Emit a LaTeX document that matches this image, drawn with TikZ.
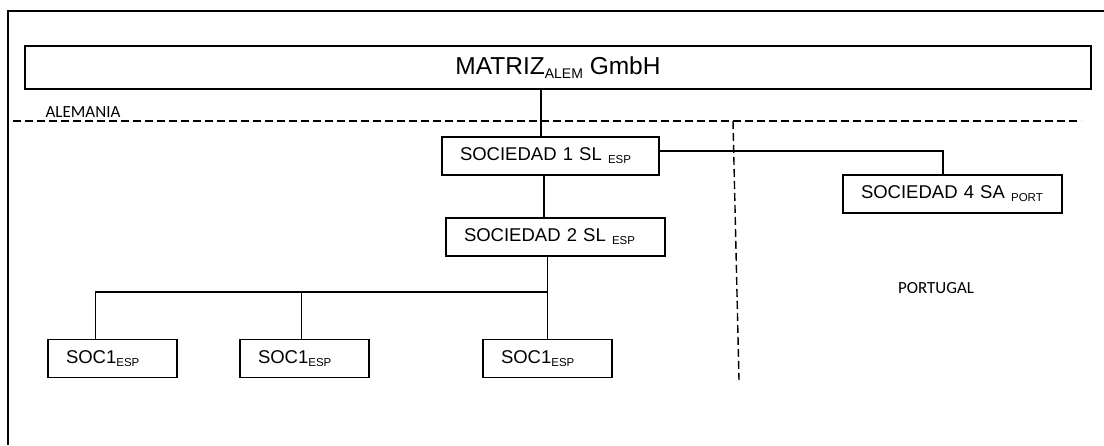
\documentclass[tikz,border=0pt]{standalone}
\usepackage{fontspec}
\setmainfont{Liberation Sans}
\newfontfamily\calibri{Carlito}
\usetikzlibrary{calc}

% small lowered tag after a company name
\newcommand{\lowsub}[2][11.5]{\raisebox{-0.3ex}{\fontsize{#1}{#1}\selectfont #2}}

\begin{document}
\begin{tikzpicture}[x=1pt,y=-1pt,
  soc/.style={draw, line width=1.4pt, rectangle, inner xsep=18pt, align=left,
    minimum height=38pt, font=\fontsize{18.5}{21}\selectfont},
  link/.style={line width=1.4pt},
  country/.style={font=\calibri\fontsize{17}{20}\selectfont},
  border/.style={dash pattern=on 8pt off 4pt, line width=1.4pt}]
\useasboundingbox (0,0) rectangle (1104,445);
\draw[line width=1.6pt] (8,445) -- (8,11) -- (1104,11);

% parent company
\node[draw, line width=1.4pt, minimum width=1066pt, minimum height=43pt,
  font=\fontsize{24.5}{28}\selectfont] (matriz) at (558,67.5) {MATRIZ\lowsub[14]{ALEM} GmbH};

% countries
\node[country] (alemania) at (83,112) {ALEMANIA};
\node[country] (portugal) at (936,288) {PORTUGAL};
\draw[border] (13,121) -- (1081,121);
\draw[border] (733,121) -- (739,380);

% subsidiaries
\node[soc, text width=181pt] (s1) at (550.5,156) {SOCIEDAD 1 SL \lowsub{ESP}};
\node[soc, text width=183pt] (s2) at (555.5,237) {SOCIEDAD 2 SL \lowsub{ESP}};
\node[soc, text width=183pt] (s4) at (952.5,194) {SOCIEDAD 4 SA \lowsub{PORT}};
\node[soc, text width=93pt] (e1) at (112.5,358.5) {SOC1\lowsub{ESP}};
\node[soc, text width=93pt] (e2) at (304.5,358.5) {SOC1\lowsub{ESP}};
\node[soc, text width=93pt] (e3) at (547.5,358.5) {SOC1\lowsub{ESP}};

% ownership lines
\coordinate (m1) at ([xshift=-9.5pt]s1.north);
\draw[link] (m1) -- (m1 |- matriz.south);
\coordinate (m2) at ([xshift=-6.5pt]s1.south);
\draw[link] (m2) -- (m2 |- s2.north);
\coordinate (m4) at ([xshift=-9.5pt]s4.north);
\draw[link] ([yshift=5pt]s1.east) -| (m4);

\coordinate (bus) at (0,292);
\coordinate (d1) at ([xshift=-17pt]e1.north);
\coordinate (d2) at ([xshift=-3pt]e2.north);
\draw[link] (e3.north) -- (e3.north |- s2.south);
\draw[link] (d1) |- (e3.north |- bus);
\draw[link] (d2) -- (d2 |- bus);
\end{tikzpicture}
\end{document}
